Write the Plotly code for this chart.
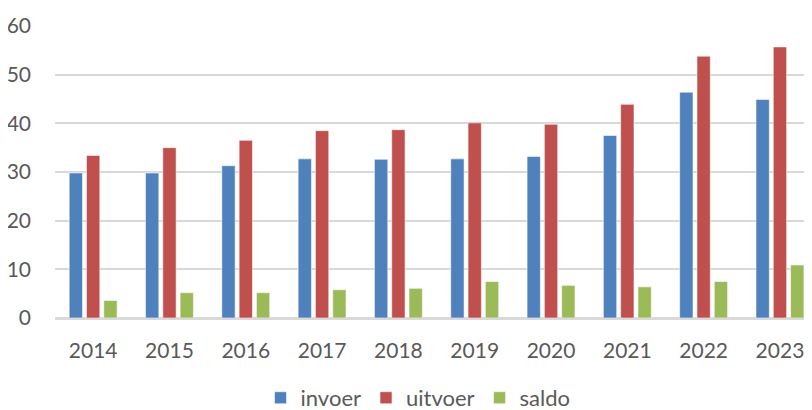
import plotly.graph_objects as go

years = ["2014", "2015", "2016", "2017", "2018", "2019", "2020", "2021", "2022", "2023"]
invoer = [29.8, 29.8, 31.3, 32.7, 32.6, 32.7, 33.2, 37.5, 46.4, 44.9]
uitvoer = [33.4, 35.0, 36.5, 38.5, 38.7, 40.1, 39.8, 43.9, 53.8, 55.7]
saldo = [3.6, 5.2, 5.2, 5.8, 6.1, 7.5, 6.7, 6.4, 7.5, 10.9]
y_ticks = [0, 10, 20, 30, 40, 50, 60]

series = [("invoer", invoer, "#4F81BD"), ("uitvoer", uitvoer, "#C0504D"), ("saldo", saldo, "#9BBB59")]

fig = go.Figure()
for name, vals, col in series:
    fig.add_trace(go.Bar(x=years, y=vals, name=name, marker=dict(color=col, line=dict(color="rgba(255,255,255,0.55)", width=1))))

FONT = "Lato, Calibri, sans-serif"
# page body has an 8px margin, so the figure is 8px smaller and offsets are shifted
fig.update_layout(
    width=804, height=402,
    margin=dict(l=47, r=0, t=18, b=92, autoexpand=False),
    plot_bgcolor="white", paper_bgcolor="white",
    barmode="group", bargap=0.32, bargroupgap=0.23,
    font=dict(family=FONT, size=21, color="#595959"),
    showlegend=True,
    legend=dict(orientation="h", xref="container", x=0.51, xanchor="center",
                yref="container", y=0.03, yanchor="middle",
                font=dict(size=22, color="#595959"), itemwidth=30, traceorder="normal"),
    xaxis=dict(range=[-0.5, 9.42], showgrid=False, showline=True, linecolor="#d9d9d9", linewidth=1.5,
               ticks="", ticklabelstandoff=13,
               tickfont=dict(size=21, color="#595959")),
    yaxis=dict(range=[0, 60], tickvals=y_ticks, showgrid=True, gridcolor="#d9d9d9", gridwidth=1.5,
               zeroline=True, zerolinecolor="#d9d9d9", zerolinewidth=1.5, ticks="",
               ticklabelstandoff=23,
               tickfont=dict(size=21, color="#595959")),
)

fig.write_html("out.html")
